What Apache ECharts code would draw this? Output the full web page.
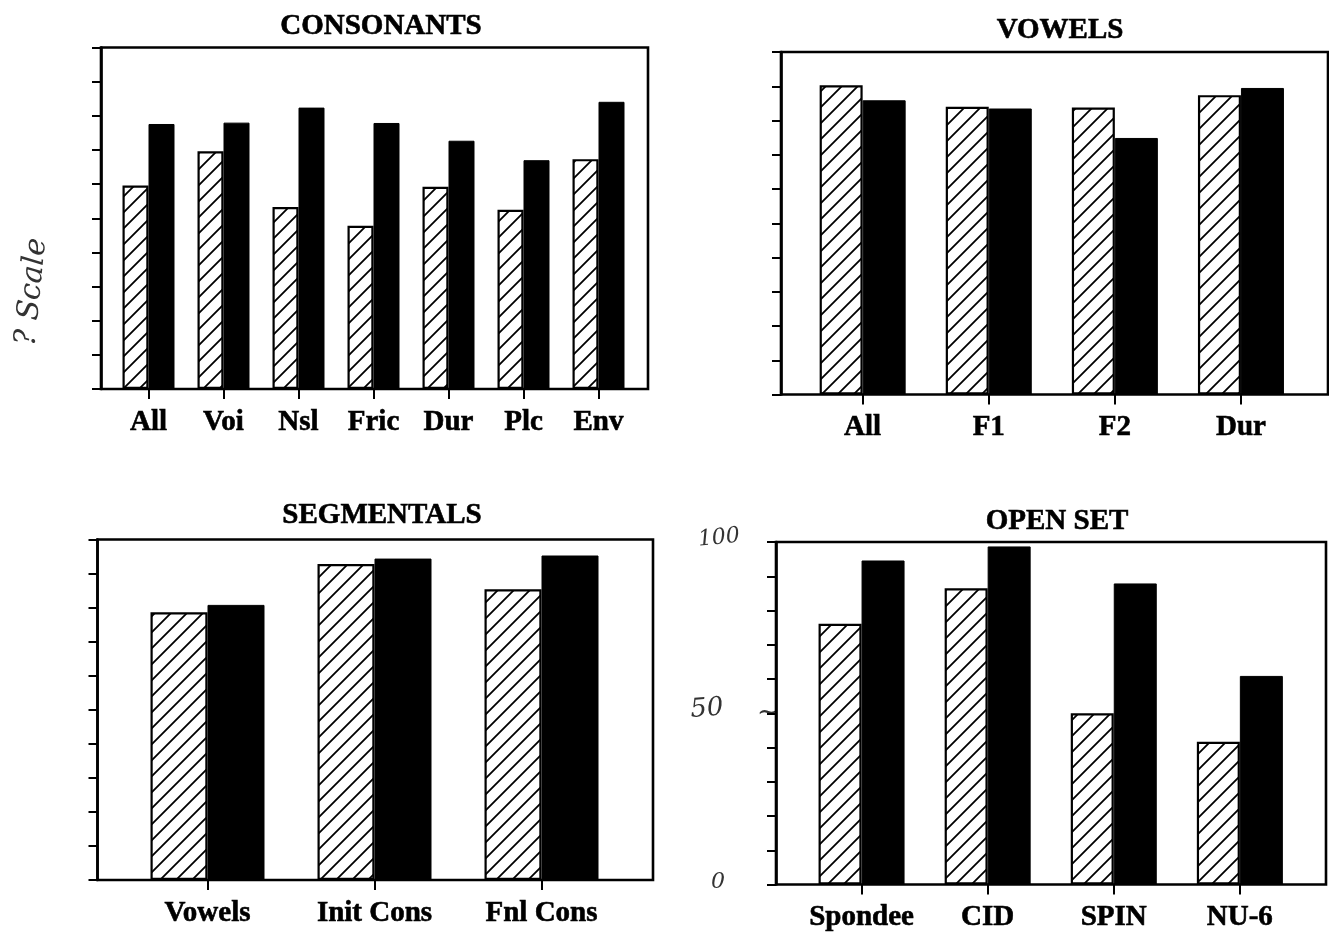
<!DOCTYPE html>
<html><head><meta charset="utf-8">
<script src="https://cdn.jsdelivr.net/npm/echarts@6/dist/echarts.min.js"></script>
<style>html,body{margin:0;padding:0;background:#fff}#c{width:1329px;height:938px}</style>
</head><body><div id="c"></div>
<script>
// ---- data ----
const yMin = 0, yMax = 100, yInterval = 10;

const consCats    = ['All', 'Voi', 'Nsl', 'Fric', 'Dur', 'Plc', 'Env'];
const consHatched = [59.6, 69.6, 53.3, 47.8, 59.2, 52.5, 67.3];
const consSolid   = [77.6, 78.0, 82.4, 77.9, 72.7, 67.0, 84.1];

const vowCats     = ['All', 'F1', 'F2', 'Dur'];
const vowHatched  = [90.3, 84.0, 83.8, 87.4];
const vowSolid    = [85.9, 83.5, 74.9, 89.5];

const segCats     = ['Vowels', 'Init Cons', 'Fnl Cons'];
const segHatched  = [78.6, 92.8, 85.4];
const segSolid    = [80.8, 94.4, 95.3];

const openCats    = ['Spondee', 'CID', 'SPIN', 'NU-6'];
const openHatched = [76.1, 86.5, 50.0, 41.7];
const openSolid   = [94.6, 98.7, 87.9, 60.9];

// ---- hatch pattern ----
function hatchCanvas() {
  const s = 16;
  const c = document.createElement('canvas');
  c.width = s; c.height = s;
  const g = c.getContext('2d');
  g.fillStyle = '#fff'; g.fillRect(0, 0, s, s);
  g.strokeStyle = '#000'; g.lineWidth = 1.8;
  g.beginPath();
  g.moveTo(-2, s + 2); g.lineTo(s + 2, -2);
  g.moveTo(-2, 2); g.lineTo(2, -2);
  g.moveTo(s - 2, s + 2); g.lineTo(s + 2, s - 2);
  g.stroke();
  return c;
}
const hatch = { image: hatchCanvas(), repeat: 'repeat' };

// ---- layout ----
const panels = [
  { title: 'CONSONANTS', cats: consCats, a: consHatched, b: consSolid,
    frame: { left: 101, top: 47.5, width: 547, height: 341.5 }, band: { left: 111, width: 525 },
    barWidth: 26, tx: 376, ty: 7 },
  { title: 'VOWELS', cats: vowCats, a: vowHatched, b: vowSolid,
    frame: { left: 781, top: 52, width: 547, height: 342.5 }, band: { left: 799.6, width: 504.4 },
    barWidth: 43, tx: 1055, ty: 11 },
  { title: 'SEGMENTALS', cats: segCats, a: segHatched, b: segSolid,
    frame: { left: 97.5, top: 539.5, width: 555.5, height: 340.5 }, band: { left: 124, width: 501 },
    barWidth: 57, tx: 377, ty: 496 },
  { title: 'OPEN SET', cats: openCats, a: openHatched, b: openSolid,
    frame: { left: 776, top: 542, width: 550, height: 342.5 }, band: { left: 798.5, width: 504.4 },
    barWidth: 43, tx: 1052, ty: 502 }
];

const serif = 'Liberation Serif';
const option = {
  backgroundColor: '#fff',
  animation: false,
  title: [], grid: [], xAxis: [], yAxis: [], series: [],
  graphic: []
};

panels.forEach((p, i) => {
  const fi = 2 * i, bi = 2 * i + 1;
  option.title.push({
    text: p.title, left: p.tx, top: p.ty, textAlign: 'center',
    textStyle: { fontFamily: serif, fontWeight: 'bold', fontSize: 29, color: '#000',
      textBorderColor: '#000', textBorderWidth: 0.6 }
  });
  option.grid.push({
    left: p.frame.left, top: p.frame.top, width: p.frame.width, height: p.frame.height,
    show: true, borderColor: '#000', borderWidth: 2.6, backgroundColor: 'transparent', z: 3
  });
  option.grid.push({
    left: p.band.left, top: p.frame.top, width: p.band.width, height: p.frame.height
  });
  option.xAxis.push({ type: 'value', gridIndex: fi, show: false, min: 0, max: 1 });
  option.yAxis.push({
    type: 'value', gridIndex: fi, min: yMin, max: yMax, interval: yInterval,
    axisLine: { show: true, lineStyle: { color: '#000', width: 2.6 } },
    axisTick: { show: true, inside: false, length: 9, lineStyle: { color: '#000', width: 2 } },
    axisLabel: { show: false }, splitLine: { show: false }
  });
  option.xAxis.push({
    type: 'category', gridIndex: bi, data: p.cats,
    axisLine: { show: false },
    axisTick: { show: true, alignWithLabel: true, length: 10, lineStyle: { color: '#000', width: 2 } },
    axisLabel: { interval: 0, margin: 19, fontFamily: serif, fontWeight: 'bold', fontSize: 29, color: '#000',
      textBorderColor: '#000', textBorderWidth: 0.6 }
  });
  option.yAxis.push({ type: 'value', gridIndex: bi, min: yMin, max: yMax, show: false, splitLine: { show: false } });
  option.series.push({
    type: 'bar', xAxisIndex: bi, yAxisIndex: bi, data: p.a, barWidth: p.barWidth, barGap: '0%',
    itemStyle: { color: hatch, borderColor: '#000', borderWidth: 2.2 }
  });
  option.series.push({
    type: 'bar', xAxisIndex: bi, yAxisIndex: bi, data: p.b, barWidth: p.barWidth, barGap: '0%',
    itemStyle: { color: '#000', borderColor: '#000', borderWidth: 1 }
  });
});

// handwritten annotations
const hand = { fontFamily: 'DejaVu Serif', fontStyle: 'italic', fontWeight: 'normal', fill: '#333' };
option.graphic = [
  { type: 'text', x: 32, y: 292, rotation: Math.PI / 2 - 0.1,
    style: Object.assign({ text: '? Scale', fontSize: 30, align: 'center', verticalAlign: 'middle' }, hand) },
  { type: 'text', x: 719, y: 538, rotation: 0.1,
    style: Object.assign({ text: '100', fontSize: 22, align: 'center', verticalAlign: 'middle' }, hand) },
  { type: 'text', x: 707, y: 709, rotation: 0.08,
    style: Object.assign({ text: '50', fontSize: 26, align: 'center', verticalAlign: 'middle' }, hand) },
  { type: 'text', x: 768, y: 713,
    style: Object.assign({ text: '~', fontSize: 26, align: 'center', verticalAlign: 'middle' }, hand) },
  { type: 'text', x: 718, y: 882,
    style: Object.assign({ text: '0', fontSize: 22, align: 'center', verticalAlign: 'middle' }, hand) }
];

const chart = echarts.init(document.getElementById('c'), null, { renderer: 'canvas' });
chart.setOption(option);
</script>
</body></html>
